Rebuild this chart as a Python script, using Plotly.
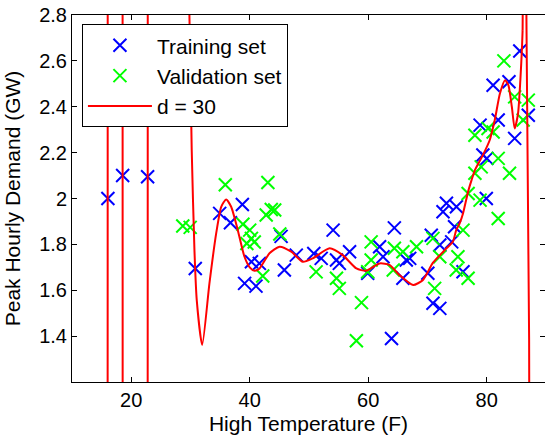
import plotly.graph_objects as go

# ---- data ----
train_temp = [16.06, 18.55, 22.76, 30.81, 34.93, 36.75, 38.76, 40.29, 39.14, 41.06,
              41.63, 45.30, 45.85, 47.86, 50.82, 52.07, 54.65, 55.13, 56.86, 54.08,
              64.42, 61.93, 62.51, 59.92, 66.43, 65.86, 63.94, 70.65, 70.07, 70.94,
              72.09, 67.01, 72.09, 74.10, 74.58, 76.01, 72.63, 73.21, 74.90, 79.94,
              80.03, 79.36, 78.89, 81.95, 81.09, 83.77, 85.59, 84.73, 87.03]
train_demand = [2.00, 2.10, 2.095, 1.695, 1.935, 1.894, 1.974, 1.724, 1.63, 1.618,
                1.717, 1.835, 1.688, 1.753, 1.76, 1.739, 1.732, 1.717, 1.768, 1.862,
                1.872, 1.79, 1.746, 1.674, 1.732, 1.652, 1.39, 1.84, 1.674, 1.543,
                1.521, 1.739, 1.797, 1.811, 1.877, 1.681, 1.942, 1.979, 1.964, 2.0,
                2.175, 2.19, 2.32, 2.342, 2.494, 2.509, 2.643, 2.262, 2.363]

val_temp = [28.70, 29.95, 35.88, 43.07, 38.85, 42.78, 44.22, 43.64, 40.00, 40.29,
            40.77, 39.52, 42.20, 45.08, 51.21, 54.65, 55.13, 58.87, 58.01, 60.50,
            60.50, 59.92, 64.42, 65.86, 68.16, 64.23, 70.94, 71.22, 72.09, 76.87,
            78.89, 81.95, 76.01, 75.15, 74.86, 76.87, 82.91, 84.73, 87.03, 86.16,
            78.02, 80.23, 81.09, 81.95, 83.86, 78.02, 79.08]
val_demand = [1.88, 1.874, 2.06, 2.07, 1.888, 1.928, 1.95, 1.952, 1.862, 1.826,
              1.81, 1.804, 1.662, 1.845, 1.68, 1.652, 1.608, 1.546, 1.38, 1.811,
              1.732, 1.681, 1.783, 1.768, 1.79, 1.688, 1.826, 1.608, 1.746, 2.022,
              1.993, 1.913, 1.862, 1.746, 1.688, 1.652, 2.60, 2.443, 2.429, 2.342,
              2.276, 2.305, 2.29, 2.175, 2.11, 2.11, 2.138]

# traced degree-30 fit (values beyond the axis range are clipped by the axes)
fit_temp = [10, 15.98, 16.06, 18.51, 18.59, 22.74, 22.82, 29.6, 29.82, 30.21,
            30.67, 31.06, 31.98, 33.20, 34.34, 35.19, 36.03, 36.87, 37.99, 39.12,
            40.0, 40.82, 41.66, 43.34, 45.04, 47.01, 48.98, 50.63, 53.50, 55.71,
            58.01, 59.63, 61.93, 63.66, 65.28, 67.58, 69.21, 70.94, 72.66, 73.23,
            74.29, 74.86, 75.44, 76.01, 76.87, 77.45, 78.02, 79.36, 80.51, 81.37,
            82.24, 83.10, 83.67, 84.25, 84.73, 85.30, 85.69, 85.97, 86.07, 86.39,
            86.73, 87.0, 87.17, 87.3, 90]
fit_demand = [-10, -5, 8, 8, -5, -5, 8, 8, 2.8, 2.211,
              1.775, 1.557, 1.361, 1.630, 1.848, 1.964, 1.996, 1.964, 1.862, 1.746,
              1.70, 1.685, 1.695, 1.761, 1.790, 1.768, 1.724, 1.739, 1.783, 1.753,
              1.695, 1.685, 1.717, 1.710, 1.666, 1.623, 1.644, 1.72, 1.768, 1.783,
              1.811, 1.862, 1.892, 1.935, 2.03, 2.08, 2.124, 2.189, 2.254, 2.342,
              2.458, 2.516, 2.494, 2.40, 2.305, 2.371, 2.516, 2.661, 2.734, 4,
              2.734, 1.994, 1.384, 0, -10]

x_ticks = [20, 40, 60, 80]
y_ticks = [1.4, 1.6, 1.8, 2.0, 2.2, 2.4, 2.6, 2.8]
y_tick_text = ["1.4", "1.6", "1.8", "2", "2.2", "2.4", "2.6", "2.8"]

FONT = "Liberation Sans, Arial, Helvetica, sans-serif"
RED = "#ff0000"

fig = go.Figure()
fig.add_trace(go.Scatter(
    x=train_temp, y=train_demand, mode="markers", name="Training set",
    marker=dict(symbol="x-thin", size=13, color="#0000ff",
                line=dict(color="#0000ff", width=2))))
fig.add_trace(go.Scatter(
    x=val_temp, y=val_demand, mode="markers", name="Validation set",
    marker=dict(symbol="x-thin", size=13, color="#00ff00",
                line=dict(color="#00ff00", width=2))))

# smooth middle part of the fit (legend entry), then the steep off-scale parts
fig.add_trace(go.Scatter(
    x=fit_temp[8:59], y=fit_demand[8:59], mode="lines", name="d = 30",
    legendgroup="fit", line=dict(color=RED, width=2, shape="spline", smoothing=0.6)))
fig.add_trace(go.Scatter(
    x=fit_temp[:9], y=fit_demand[:9], mode="lines", name="d = 30",
    legendgroup="fit", showlegend=False, line=dict(color=RED, width=2)))
fig.add_trace(go.Scatter(
    x=fit_temp[58:], y=fit_demand[58:], mode="lines", name="d = 30",
    legendgroup="fit", showlegend=False, line=dict(color=RED, width=2)))

fig.update_layout(
    width=545, height=438,
    margin=dict(l=72, r=0, t=15, b=56),
    paper_bgcolor="white", plot_bgcolor="white",
    font=dict(family=FONT, size=20, color="black"),
    showlegend=True,
    legend=dict(x=0.021, y=0.975, xanchor="left", yanchor="top",
                bgcolor="white", bordercolor="black", borderwidth=1,
                font=dict(family=FONT, size=21, color="black"),
                itemwidth=64, tracegroupgap=0),
    xaxis=dict(range=[10, 89.85], tickvals=x_ticks, ticks="inside", ticklen=5,
               tickcolor="black", showline=True, linecolor="black", linewidth=1,
               mirror="ticks", showgrid=False, zeroline=False,
               tickfont=dict(family=FONT, size=20),
               title=dict(text="High Temperature (F)", standoff=6,
                          font=dict(family=FONT, size=21))),
    yaxis=dict(range=[1.2, 2.8], tickvals=y_ticks, ticktext=y_tick_text,
               ticks="inside", ticklen=5, tickcolor="black", showline=True,
               linecolor="black", linewidth=1, mirror="ticks", showgrid=False,
               zeroline=False, tickfont=dict(family=FONT, size=20),
               title=dict(text="Peak Hourly Demand (GW)", standoff=12,
                          font=dict(family=FONT, size=21))),
)

fig.write_html(
    "out.html",
    config={"displayModeBar": False},
    post_script="document.body.style.margin='0';document.body.style.overflow='hidden';",
)
